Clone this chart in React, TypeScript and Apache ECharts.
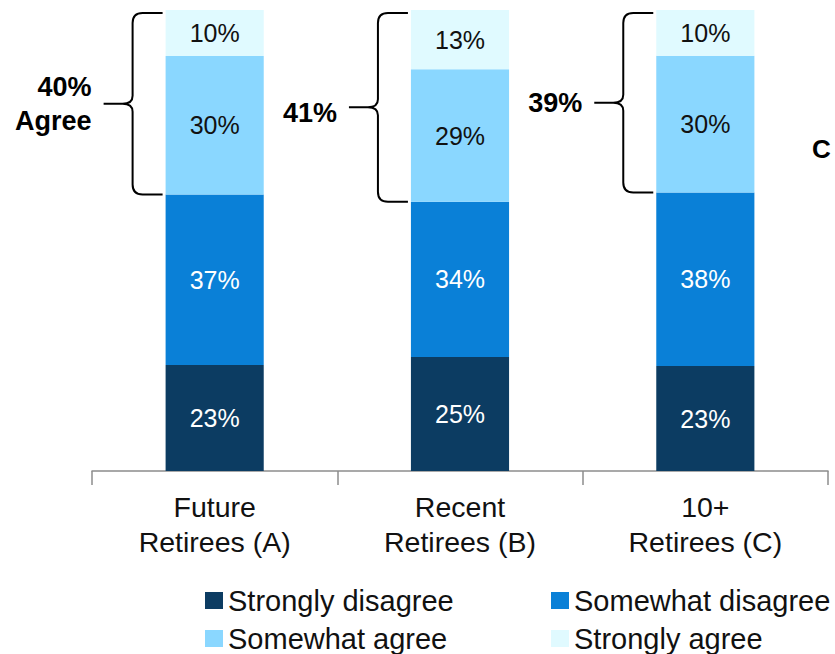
import React, { useEffect, useRef } from "react";
import * as echarts from "echarts";

const categories = ["Future\nRetirees (A)", "Recent\nRetirees (B)", "10+\nRetirees (C)"];
const stronglyDisagree = [23, 25, 23];
const somewhatDisagree = [37, 34, 38];
const somewhatAgree = [30, 29, 30];
const stronglyAgree = [10, 13, 10];
const agreeLabels = ["40%\nAgree", "41%", "39%"];
const seriesNames = ["Strongly disagree", "Somewhat disagree", "Somewhat agree", "Strongly agree"];
const colors = ["#0C3C62", "#0A80D7", "#8AD7FF", "#E0FAFF"];
const FONT = "'Liberation Sans', Arial, sans-serif";

export default function App() {
  const ref = useRef<HTMLDivElement>(null);
  useEffect(() => {
    if (!ref.current) return;
    const chart = echarts.init(ref.current, null, { renderer: "svg" });
    const raw = [stronglyDisagree, somewhatDisagree, somewhatAgree, stronglyAgree];
    // 100% stacked: each column is scaled to its own total
    const totals = categories.map((_, i) => raw.reduce((s, arr) => s + arr[i], 0));
    const norm = raw.map((arr) => arr.map((v, i) => (v / totals[i]) * 100));
    const bars = norm.map((d, si) => ({
      name: seriesNames[si],
      type: "bar",
      stack: "total",
      barWidth: "40%",
      data: d,
      itemStyle: { color: colors[si] },
      label: {
        show: true,
        position: "inside",
        formatter: (p: any) => `${raw[si][p.dataIndex]}%`,
        fontFamily: FONT,
        fontSize: 25,
        color: si < 2 ? "#ffffff" : "#111111",
      },
    }));
    const braceData = categories.map((_, i) => [i, norm[0][i] + norm[1][i], 100]);
    const brace = {
      type: "custom",
      name: "brace",
      clip: false,
      silent: true,
      data: braceData,
      renderItem: (params: any, api: any) => {
        const ci = api.value(0);
        const [cx, yB] = api.coord([ci, api.value(1)]);
        const [, yTop] = api.coord([ci, api.value(2)]);
        const yT = yTop + 3;
        const bw = api.size([1, 0])[0] * 0.4;
        const xL = cx - bw / 2;
        const tipX = xL - 3;
        const vX = xL - 33;
        const midX = xL - 62;
        const mid = (yT + yB) / 2;
        const d =
          `M${tipX},${yT} L${vX + 10},${yT} Q${vX},${yT} ${vX},${yT + 10} ` +
          `L${vX},${mid - 8} Q${vX},${mid} ${vX - 10},${mid} L${midX},${mid} ` +
          `M${vX - 10},${mid} Q${vX},${mid} ${vX},${mid + 8} ` +
          `L${vX},${yB - 10} Q${vX},${yB} ${vX + 10},${yB} L${tipX},${yB}`;
        return {
          type: "group",
          children: [
            {
              type: "path",
              shape: { pathData: d },
              style: { fill: "none", stroke: "#000", lineWidth: 2 },
            },
            {
              type: "text",
              x: midX - 12,
              y: mid + (params.dataIndex === 1 ? 6 : 0),
              style: {
                text: agreeLabels[params.dataIndex],
                align: "right",
                verticalAlign: "middle",
                fontFamily: FONT,
                fontSize: 27,
                fontWeight: "bold",
                lineHeight: 34,
                fill: "#000",
              },
            },
          ],
        };
      },
    };
    const legendPos = [
      { left: 205, top: 586 },
      { left: 551, top: 586 },
      { left: 205, top: 624 },
      { left: 551, top: 624 },
    ];
    const legends = seriesNames.map((name, i) => ({
      data: [name],
      left: legendPos[i].left,
      top: legendPos[i].top,
      padding: 0,
      icon: "rect",
      itemWidth: 18,
      itemHeight: 17,
      selectedMode: false,
      textStyle: { fontFamily: FONT, fontSize: 29, color: "#111", lineHeight: 29 },
    }));
    chart.setOption({
      animation: false,
      grid: { left: 92, right: 7, top: 10, bottom: 183, containLabel: false },
      legend: legends,
      xAxis: {
        type: "category",
        data: categories,
        axisLine: { lineStyle: { color: "#8c8c8c", width: 1.5 } },
        axisTick: { show: true, length: 14, lineStyle: { color: "#8c8c8c", width: 1.5 } },
        axisLabel: {
          fontFamily: FONT,
          fontSize: 28.5,
          color: "#111",
          lineHeight: 35,
          margin: 18,
        },
      },
      yAxis: {
        type: "value",
        min: 0,
        max: 100,
        show: false,
        splitLine: { show: false },
      },
      graphic: [
        {
          type: "text",
          left: 812,
          top: 136,
          style: {
            text: "C",
            fontFamily: FONT,
            fontSize: 26,
            fontWeight: "bold",
            fill: "#000",
          },
        },
      ],
      series: [...bars, brace],
    });
    return () => chart.dispose();
  }, []);
  return (
    <div
      ref={ref}
      style={{ position: "absolute", left: 0, top: 0, width: 835, height: 654 }}
    />
  );
}
